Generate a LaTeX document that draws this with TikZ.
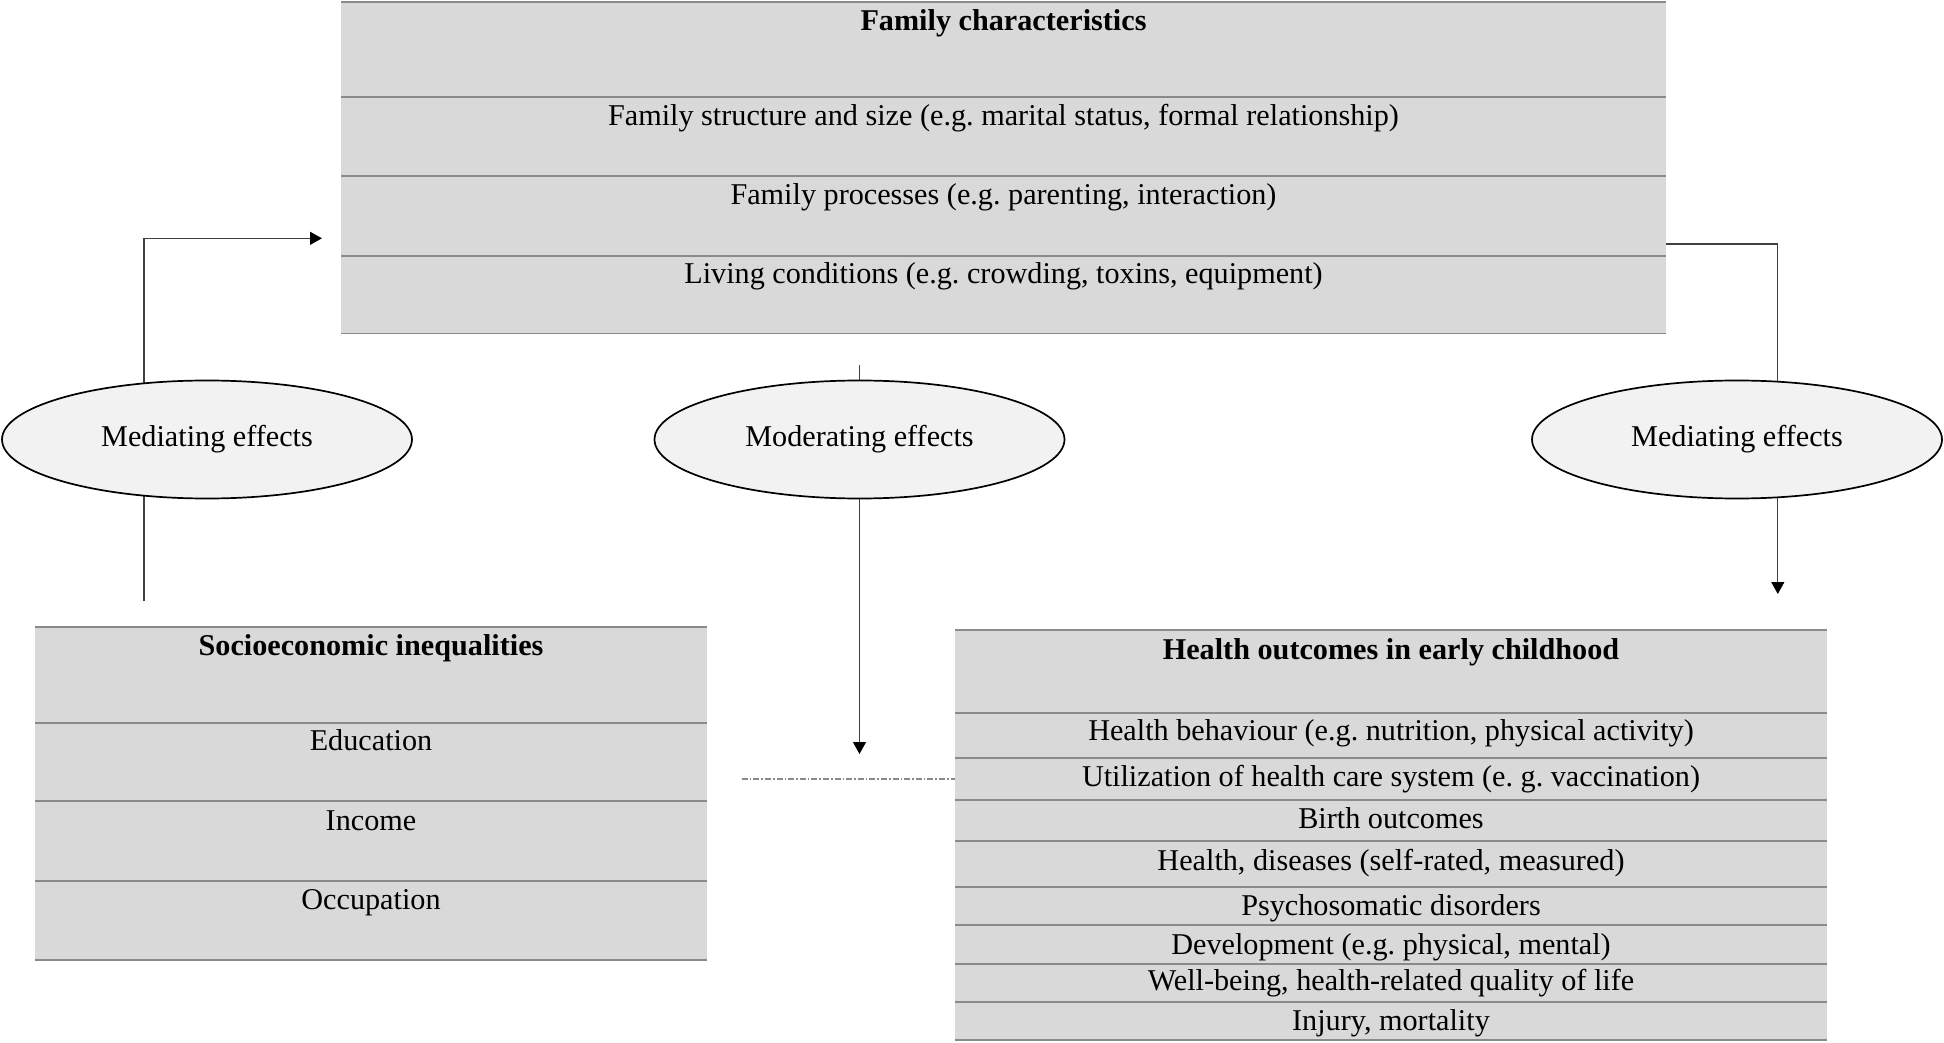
\documentclass[tikz,border=0pt]{standalone}
\usepackage{fontspec}
\setmainfont{Liberation Serif}
\usetikzlibrary{shapes.geometric,arrows.meta}
\pgfdeclarelayer{bg}
\pgfsetlayers{bg,main}
\definecolor{boxgray}{HTML}{D9D9D9}
\definecolor{ellgray}{HTML}{F2F2F2}
\definecolor{rulegray}{HTML}{8A8A8A}
\definecolor{linkgray}{HTML}{404040}
\frenchspacing

\begin{document}
\begin{tikzpicture}[x=0.5pt,y=-0.5pt,
    box/.style={fill=boxgray, anchor=north west, inner sep=0pt, outer sep=0pt},
    rule/.style={draw=rulegray, line width=0.9pt},
    txt/.style={anchor=base, inner sep=0pt, font=\fontsize{15.1pt}{18pt}\selectfont},
    title/.style={txt, font=\fontsize{15.1pt}{18pt}\selectfont\bfseries},
    effect/.style={ellipse, draw=black, line width=0.85pt, fill=ellgray,
        minimum width=205pt, minimum height=59pt, inner sep=0pt,
        font=\fontsize{15.1pt}{18pt}\selectfont},
    link/.style={draw=linkgray, line width=0.6pt},
    arr/.style={-{Triangle[length=6pt,width=6.5pt,color=black]}},
    dashdot/.style={draw=rulegray, line width=0.75pt,
        dash pattern=on 3pt off 1pt on 0.8pt off 1pt}]

    % 画布大小
    \useasboundingbox (0,0) rectangle (1944,1043);

    % 家庭特征
    \node[box, minimum width=662.5pt, minimum height=166pt] (fam) at (341,1.7) {};
    \foreach \y in {1.7,97.3,176,255.7,333.6}
        \draw[rule] (fam.west |- 0,\y) -- (fam.east |- 0,\y);
    \node[title] (fam0) at (1003.5,31) {Family characteristics};
    \node[txt] (fam1) at (1003.5,126) {Family structure and size (e.g. marital status, formal relationship)};
    \node[txt] (fam2) at (1003.5,205) {Family processes (e.g. parenting, interaction)};
    \node[txt] (fam3) at (1003.5,284) {Living conditions (e.g. crowding, toxins, equipment)};

    % 社会经济不平等
    \node[box, minimum width=336pt, minimum height=166.65pt] (ses) at (35,626.7) {};
    \foreach \y in {626.7,722.7,801.3,880.7,960}
        \draw[rule] (ses.west |- 0,\y) -- (ses.east |- 0,\y);
    \node[title] (ses0) at (371,655) {Socioeconomic inequalities};
    \node[txt] (ses1) at (371,750.7) {Education};
    \node[txt] (ses2) at (371,830) {Income};
    \node[txt] (ses3) at (371,909) {Occupation};

    % 健康结果
    \node[box, minimum width=435.9pt, minimum height=205pt] (hlth) at (955,630) {};
    \foreach \y in {630,712.7,757.7,800,840.7,886.7,925,964,1002.3,1040}
        \draw[rule] (hlth.west |- 0,\y) -- (hlth.east |- 0,\y);
    \node[title] (hlth0) at (1391,659) {Health outcomes in early childhood};
    \node[txt] (hlth1) at (1391,740.7) {Health behaviour (e.g. nutrition, physical activity)};
    \node[txt] (hlth2) at (1391,786) {Utilization of health care system (e. g. vaccination)};
    \node[txt] (hlth3) at (1391,828.7) {Birth outcomes};
    \node[txt] (hlth4) at (1391,870) {Health, diseases (self-rated, measured)};
    \node[txt] (hlth5) at (1391,915) {Psychosomatic disorders};
    \node[txt] (hlth6) at (1391,954) {Development (e.g. physical, mental)};
    \node[txt] (hlth7) at (1391,990.7) {Well-being, health-related quality of life};
    \node[txt] (hlth8) at (1391,1030) {Injury, mortality};

    % 三个椭圆
    \node[effect] (medl) at (207,439.5) {Mediating effects};
    \node[effect] (mod) at (859.5,439.5) {Moderating effects};
    \node[effect] (medr) at (1737,439.5) {Mediating effects};

    % 连线端点
    \coordinate (lfoot) at (144,601);
    \coordinate (famin) at (322,238.3);
    \coordinate (modtop) at (859.5,365);
    \coordinate (modend) at (859.5,754);
    \coordinate (famout) at (fam.east |- 0,244);
    \coordinate (hlthin) at (1777.8,594);
    \coordinate (ddstart) at (741.7,779);

    % 连线（在椭圆下层）
    \begin{pgfonlayer}{bg}
        \draw[link,arr] (lfoot) |- (famin);
        \draw[link,arr] (modtop) -- (modend);
        \draw[link,arr] (famout) -| (hlthin);
    \end{pgfonlayer}
    \draw[dashdot] (ddstart) -- (ddstart -| hlth.west);
\end{tikzpicture}
\end{document}
